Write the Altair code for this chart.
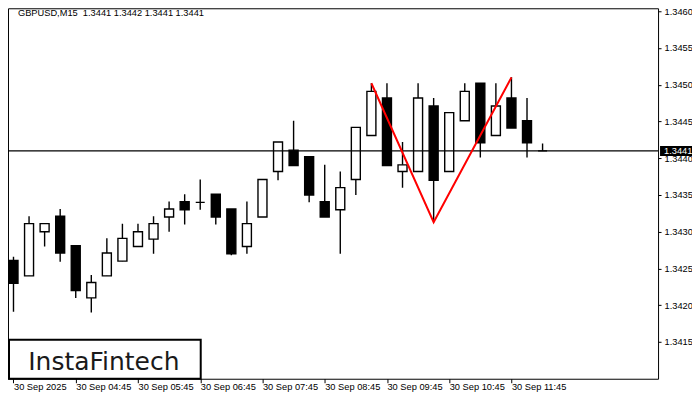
import altair as alt
import pandas as pd

# ---- data (GBPUSD M15, 30 Sep 2025, candles from 03:45) ----
candle_idx = list(range(35))
opens = [1.34261, 1.34240, 1.34300, 1.34321, 1.34281, 1.34210, 1.34240, 1.34260, 1.34280, 1.34290,
         1.34320, 1.34341, 1.34340, 1.34351, 1.34331, 1.34280, 1.34320, 1.34382, 1.34411, 1.34402,
         1.34341, 1.34330, 1.34371, 1.34431, 1.34482, 1.34382, 1.34382, 1.34471, 1.34382, 1.34451,
         1.34502, 1.34431, 1.34482, 1.34451, 1.34410]
highs = [1.34266, 1.34321, 1.34312, 1.34331, 1.34281, 1.34241, 1.34291, 1.34311, 1.34311, 1.34321,
         1.34341, 1.34351, 1.34371, 1.34351, 1.34331, 1.34341, 1.34371, 1.34422, 1.34451, 1.34402,
         1.34391, 1.34382, 1.34442, 1.34502, 1.34502, 1.34422, 1.34502, 1.34482, 1.34462, 1.34502,
         1.34502, 1.34502, 1.34510, 1.34482, 1.34420]
lows = [1.34191, 1.34240, 1.34280, 1.34259, 1.34210, 1.34190, 1.34240, 1.34260, 1.34280, 1.34270,
        1.34300, 1.34310, 1.34330, 1.34310, 1.34268, 1.34270, 1.34320, 1.34370, 1.34390, 1.34340,
        1.34320, 1.34270, 1.34350, 1.34431, 1.34390, 1.34360, 1.34382, 1.34313, 1.34382, 1.34451,
        1.34401, 1.34431, 1.34441, 1.34401, 1.34410]
closes = [1.34230, 1.34311, 1.34311, 1.34271, 1.34220, 1.34231, 1.34271, 1.34291, 1.34300, 1.34311,
          1.34331, 1.34330, 1.34340, 1.34320, 1.34270, 1.34311, 1.34371, 1.34422, 1.34390, 1.34350,
          1.34320, 1.34360, 1.34442, 1.34491, 1.34390, 1.34391, 1.34482, 1.34370, 1.34462, 1.34491,
          1.34421, 1.34471, 1.34441, 1.34421, 1.34410]

x_tick_idx = [0, 4, 8, 12, 16, 20, 24, 28, 32]
x_tick_labels = ["30 Sep 2025", "30 Sep 04:45", "30 Sep 05:45", "30 Sep 06:45", "30 Sep 07:45",
                 "30 Sep 08:45", "30 Sep 09:45", "30 Sep 10:45", "30 Sep 11:45"]
y_tick_values = [1.3415, 1.3420, 1.3425, 1.3430, 1.3435, 1.3440, 1.3445, 1.3450, 1.3455, 1.3460]

pattern_idx = [23, 27, 32]
pattern_price = [1.34502, 1.34313, 1.34510]

last_price = 1.3441
title_text = "GBPUSD,M15\u00a0 1.3441 1.3442 1.3441 1.3441"
brand_text = "InstaFintech"

# ---- layout ----
W, H = 651, 371
FONT = "Liberation Sans"
FS = 9.3

df = pd.DataFrame({"i": candle_idx, "o": opens, "h": highs, "l": lows, "c": closes})
df["fc"] = ["white" if c >= o else "black" for o, c in zip(opens, closes)]

xs = alt.Scale(domain=[-0.032, 41.1], nice=False, zero=False)
ys = alt.Scale(domain=[1.3410, 1.34604], nice=False, zero=False)

label_expr = "[" + ",".join('"%s"' % s for s in x_tick_labels) + "][round(datum.value/4)]"
x_axis = alt.Axis(values=x_tick_idx, labelExpr=label_expr, orient="bottom", tickSize=4,
                  labelPadding=0, labelAlign="left", labelBaseline="top", labelFlush=False,
                  labelOverlap=False, title=None)
y_axis = alt.Axis(values=y_tick_values, format=".4f", orient="right", tickSize=3,
                  labelPadding=3, labelFlush=False, labelOverlap=False, title=None)


def X(f):
    return alt.X(f, type="quantitative", scale=xs, axis=x_axis)


def Y(f):
    return alt.Y(f, type="quantitative", scale=ys, axis=y_axis)


base = alt.Chart(df)

wicks = base.mark_rule(color="black", strokeWidth=1.4, clip=True).encode(
    x=X("i"), y=Y("l"), y2=alt.Y2("h"))

bodies = base.mark_bar(size=9, stroke="black", strokeWidth=1.4, clip=True).encode(
    x=X("i"), y=Y("o"), y2=alt.Y2("c"), fill=alt.Fill("fc:N", scale=None))

price_df = pd.DataFrame({"p": [last_price], "t1": [last_price + 0.000068],
                         "t2": [last_price - 0.000068]})
price_line = alt.Chart(price_df).mark_rule(color="black", strokeWidth=1.1).encode(y=Y("p"))

pat_df = pd.DataFrame({"i": pattern_idx, "p": pattern_price})
pattern = alt.Chart(pat_df).mark_line(color="#ff0000", strokeWidth=2, clip=True).encode(
    x=X("i"), y=Y("p"))

tag_box = alt.Chart(price_df).mark_rect(color="black", clip=False).encode(
    x=alt.value(W + 2), x2=alt.value(W + 38), y=Y("t1"), y2=alt.Y2("t2"))
tag_text = alt.Chart(price_df).mark_text(
    text=f"{last_price:.4f}", color="white", font=FONT, fontSize=FS, align="left",
    baseline="middle", clip=False).encode(x=alt.value(W + 6), y=Y("p"))

one = pd.DataFrame({"a": [0]})
title_mark = alt.Chart(one).mark_text(
    text=title_text, font=FONT, fontSize=FS, color="black", align="left",
    baseline="alphabetic").encode(x=alt.value(10), y=alt.value(7.5))

logo_box = alt.Chart(one).mark_rect(fill="white", stroke="black", strokeWidth=2).encode(
    x=alt.value(1), x2=alt.value(193), y=alt.value(332), y2=alt.value(H))
logo_text = alt.Chart(one).mark_text(
    text=brand_text, font="DejaVu Sans", fontSize=25, color="#1a1a1a", align="center",
    baseline="alphabetic").encode(x=alt.value(96), y=alt.value(362))

chart = alt.layer(
    wicks, bodies, price_line, pattern, tag_box, tag_text, title_mark, logo_box, logo_text
).properties(
    width=W, height=H,
    padding={"left": 0, "top": 0, "right": 34, "bottom": 14},
    autosize=alt.AutoSizeParams(type="none"),
    background="white",
).configure_view(
    stroke="black", strokeWidth=1
).configure_axis(
    labelFont=FONT, labelFontSize=FS, labelColor="black", tickColor="black",
    tickWidth=1, domain=False, grid=False
)

chart.save("out.html", embed_options={"renderer": "svg", "actions": False})
